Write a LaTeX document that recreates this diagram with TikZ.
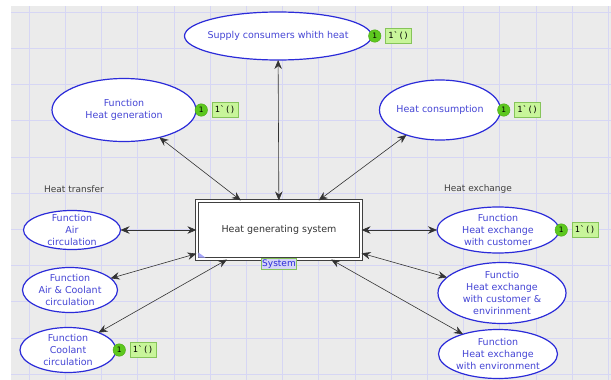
\documentclass[tikz,border=0pt]{standalone}
\usepackage{fontspec}
\setmainfont{DejaVu Sans}
\setmonofont{DejaVu Sans Mono}
\usepackage{tikz}
\usetikzlibrary{arrows.meta,%
                shapes.geometric,positioning}
\definecolor{gridbg}{HTML}{EBEBEB}
\definecolor{gridline}{HTML}{D6D6F4}
\definecolor{placeblue}{HTML}{2B2BD9}
\definecolor{placetext}{HTML}{4545D5}
\definecolor{tokgreen}{HTML}{5DC81E}
\definecolor{markgreen}{HTML}{C8F59A}
\definecolor{markedge}{HTML}{86C45A}
\definecolor{syslav}{HTML}{D4D4F6}

\begin{document}
\begin{tikzpicture}[x=1pt,y=-1pt]
  \tikzset{PlaceStyle/.style = {shape          = ellipse,
                                draw           = placeblue,
                                fill           = white,
                                line width     = 1.2pt,
                                inner sep      = 0pt,
                                outer sep      = 0pt}}
  \tikzset{PlaceText/.style = {text           = placetext,
                               align          = center,
                               inner sep      = 0pt,
                               font           = \fontsize{9.5}{12}\selectfont}}
  \tikzset{TokenStyle/.style = {shape          = circle,
                                fill           = tokgreen,
                                draw           = tokgreen!85!black,
                                line width     = 0.4pt,
                                minimum size   = 12.5pt,
                                inner sep      = 0pt,
                                outer sep      = 0pt,
                                font           = \fontsize{7.5}{7.5}\selectfont}}
  \tikzset{MarkStyle/.style = {shape          = rectangle,
                               fill           = markgreen,
                               draw           = markedge,
                               line width     = 0.6pt,
                               inner xsep     = 3pt,
                               inner ysep     = 3.5pt,
                               font           = \ttfamily\fontsize{8.5}{8.5}\selectfont}}
  \tikzset{ArcStyle/.style = {<->, >={Stealth[length=9pt, width=7.5pt, inset=3pt]},
                              draw=black!80, line width=0.6pt}}
  \useasboundingbox (0,0) rectangle (611,380);
  %%% GRILLE %%%
  \fill[gridbg] (11,6) rectangle (611,380);
  \foreach \gx in {0,...,16}
    \draw[gridline, line width=0.6pt] ({29+36.2*\gx},6) -- ({29+36.2*\gx},380);
  \foreach \gy in {0,...,10}
    \draw[gridline, line width=0.6pt] (11,{12+36.2*\gy}) -- (611,{12+36.2*\gy});
  %%% SYSTEME %%%
  \node[draw=black!75, double=white, double distance=1.6pt, line width=1.1pt, fill=white,
        minimum width=164pt, minimum height=58pt, text=black!80,
        font=\fontsize{9.5}{11}\selectfont](hgs) at (279,230){Heat generating system};
  \fill[syslav!60!blue!70] ([xshift=2pt,yshift=2pt]hgs.south west) -- ++(7,0) -- ++(-7,-5) -- cycle;
  \node[fill=syslav, draw=markedge, line width=1pt, text=placeblue, inner sep=1.2pt,
        font=\fontsize{9}{9}\selectfont](sys) at (279,264){System};
  %%% EN HAUT %%%
  \node[PlaceStyle, minimum width=187pt, minimum height=48pt,
        label={[PlaceText]center:Supply consumers whith heat}](supply) at (278,36){};
  \node[PlaceStyle, minimum width=144pt, minimum height=63pt,
        label={[PlaceText]center:{Function\\Heat generation}}](heatgen) at (124,110){};
  \node[PlaceStyle, minimum width=121pt, minimum height=60pt,
        label={[PlaceText]center:Heat consumption}](heatcons) at (440,110){};
  %%% TOUR DE GAUCHE %%%
  \node[text=black!75, font=\fontsize{9}{11}\selectfont](transfer) at (74,189){Heat transfer};
  \node[PlaceStyle, minimum width=97pt, minimum height=39pt,
        label={[PlaceText]center:{Function\\Air\\circulation}}](airc) at (72,230){};
  \node[PlaceStyle, minimum width=95pt, minimum height=45pt,
        label={[PlaceText]center:{Function\\Air \& Coolant\\circulation}}](aircool) at (70,290){};
  \node[PlaceStyle, minimum width=96pt, minimum height=45pt,
        label={[PlaceText]center:{Function\\Coolant\\circulation}}](coolant) at (68,350){};
  %%% TOUR DE DROITE %%%
  \node[text=black!75, font=\fontsize{9}{11}\selectfont](exchange) at (478,189){Heat exchange};
  \node[PlaceStyle, minimum width=122pt, minimum height=46pt,
        label={[PlaceText]center:{Function\\Heat exchange\\with customer}}](exccust) at (498,230){};
  \node[PlaceStyle, minimum width=128pt, minimum height=61pt,
        label={[PlaceText]center:{Functio\\Heat exchange\\with customer \&\\envirinment}}](exccustenv) at (502,293){};
  \node[PlaceStyle, minimum width=119pt, minimum height=49pt,
        label={[PlaceText]center:{Function\\Heat exchange\\with environment}}](excenv) at (498,354){};
  %%% JETONS %%%
  \node[TokenStyle, right=-3pt of supply](supplytok){1};
  \node[MarkStyle, right=4pt of supplytok](supplymark){1\textasciigrave()};
  \node[TokenStyle, right=-1pt of heatgen](heatgentok){1};
  \node[MarkStyle, right=4pt of heatgentok](heatgenmark){1\textasciigrave()};
  \node[TokenStyle, right=-3pt of heatcons](heatconstok){1};
  \node[MarkStyle, right=4pt of heatconstok](heatconsmark){1\textasciigrave()};
  \node[TokenStyle, right=-3pt of coolant](coolanttok){1};
  \node[MarkStyle, right=4pt of coolanttok](coolantmark){1\textasciigrave()};
  \node[TokenStyle, right=-4pt of exccust](exccusttok){1};
  \node[MarkStyle, right=4pt of exccusttok](exccustmark){1\textasciigrave()};
  %%% ARCS %%%
  \draw[ArcStyle](supply) -- (hgs);
  \draw[ArcStyle](heatgen) -- (hgs);
  \draw[ArcStyle](heatcons) -- (hgs);
  \draw[ArcStyle](airc) -- (hgs);
  \draw[ArcStyle](aircool) -- (hgs);
  \draw[ArcStyle](coolant) -- (hgs);
  \draw[ArcStyle](exccust) -- (hgs);
  \draw[ArcStyle](exccustenv) -- (hgs);
  \draw[ArcStyle](excenv) -- (hgs);
\end{tikzpicture}
\end{document}
